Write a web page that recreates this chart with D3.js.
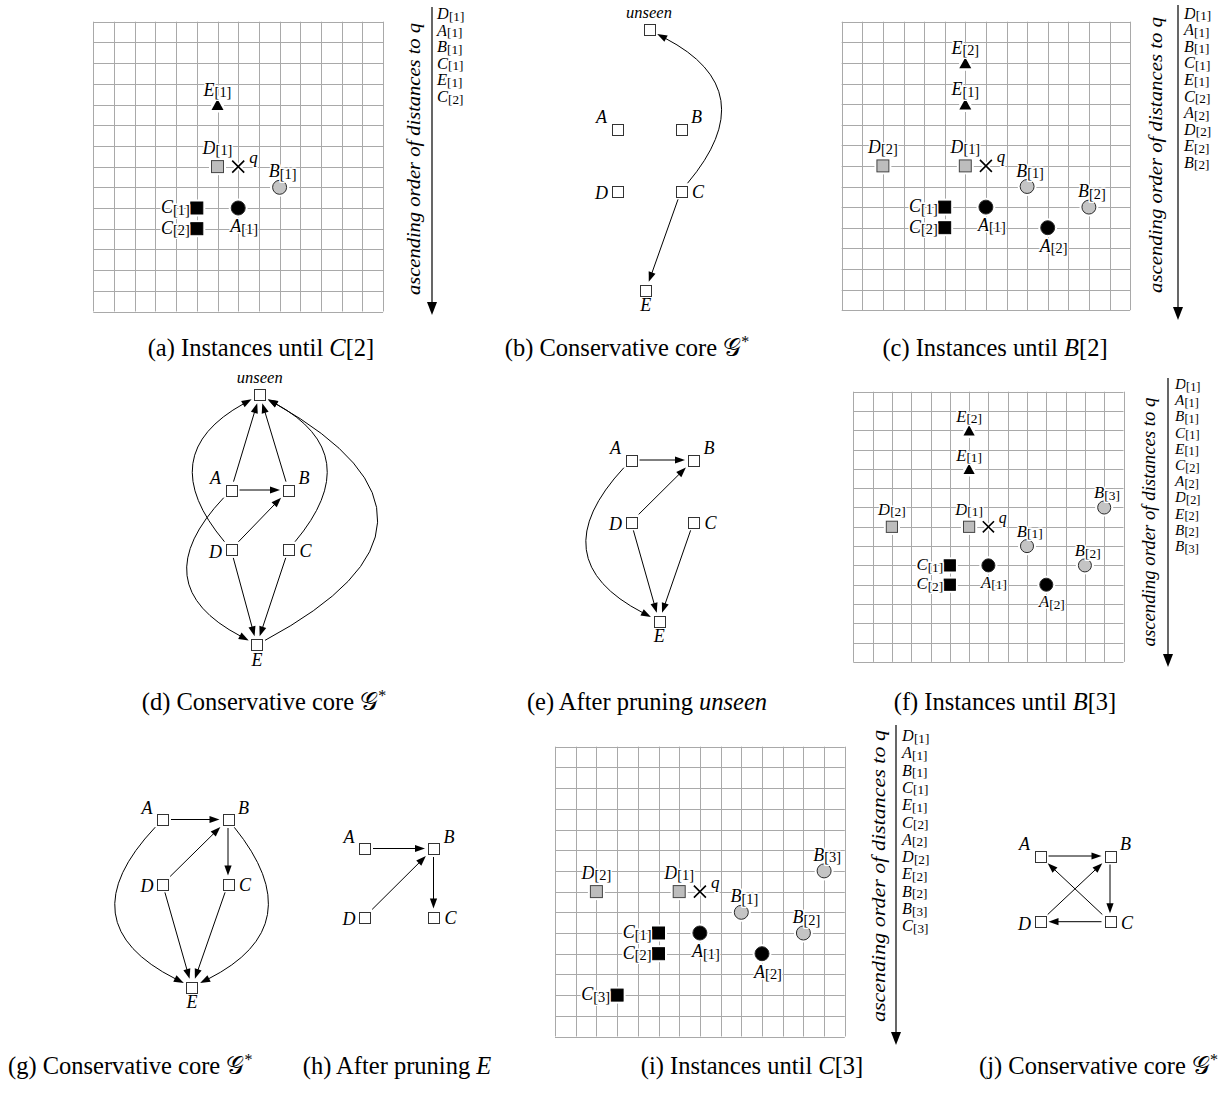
<!DOCTYPE html>
<html>
<head>
<meta charset="utf-8">
<title>Instances and conservative cores</title>
<style>
  body { margin: 0; background: #fff; }
  svg { display: block; font-family: "Liberation Serif", "Times New Roman", serif; }
  .grid line { stroke: #a9a9a9; stroke-width: 1; }
  .halo { stroke: #fff; stroke-width: 3; paint-order: stroke; stroke-linejoin: round; }
  .edge { fill: none; stroke: #000; stroke-width: 1; }
  .node { fill: #fff; stroke: #333; stroke-width: 1; }
</style>
</head>
<body>
<div id="chart"></div>
<script src="https://cdn.jsdelivr.net/npm/d3@7"></script>
<script>
(function (d3) {
    'use strict';

    // instances: id = letter + number, position on the 14x14 grid
    var instIds = ['A1', 'A2', 'B1', 'B2', 'B3', 'C1', 'C2', 'C3', 'D1', 'D2', 'E1', 'E2'];
    var instCol = [7, 10, 9, 12, 13, 5, 5, 3, 6, 2, 6, 6];
    var instRow = [9, 10, 8, 9, 6, 9, 10, 12, 7, 7, 4, 2];
    var queryCell = [7, 7];

    // ascending order of distances to q
    var orderA = ['D1', 'A1', 'B1', 'C1', 'E1', 'C2'];
    var orderC = orderA.concat(['A2', 'D2', 'E2', 'B2']);
    var orderF = orderC.concat(['B3']);
    var orderI = orderF.concat(['C3']);

    // graph nodes (abstract layout units)
    var nodeNames = ['A', 'B', 'C', 'D', 'E', 'unseen'];
    var nodeX = [0, 1, 1, 0, 0.45, 0.5];
    var nodeY = [0, 0, 1, 1, 2.6, -1.6];

    // edges: source, target, bend (0 = straight)
    var edgesB = [['C', 'unseen', 0.8], ['C', 'E', 0]];
    var edgesD = [['A', 'unseen', 0], ['B', 'unseen', 0], ['A', 'B', 0], ['D', 'B', 0],
        ['D', 'E', 0], ['C', 'E', 0], ['D', 'unseen', -0.83], ['C', 'unseen', 0.83],
        ['A', 'E', 0.9], ['E', 'unseen', 1.97]];
    var edgesE = [['A', 'B', 0], ['D', 'B', 0], ['D', 'E', 0], ['C', 'E', 0], ['A', 'E', 0.86]];
    var edgesG = [['A', 'B', 0], ['D', 'B', 0], ['B', 'C', 0], ['D', 'E', 0], ['C', 'E', 0],
        ['A', 'E', 0.87], ['B', 'E', -0.81]];
    var edgesH = [['A', 'B', 0], ['D', 'B', 0], ['B', 'C', 0]];
    var edgesJ = [['A', 'B', 0], ['B', 'C', 0], ['C', 'D', 0], ['D', 'B', 0], ['C', 'A', 0]];

    var captionText = ['(a) Instances until ', '(b) Conservative core ', '(c) Instances until ',
        '(d) Conservative core ', '(e) After pruning ', '(f) Instances until ',
        '(g) Conservative core ', '(h) After pruning ', '(i) Instances until ', '(j) Conservative core '];
    var captionMath = ['C[2]', 'G*', 'B[2]', 'G*', 'unseen', 'B[3]', 'G*', 'E', 'C[3]', 'G*'];

    var inst = {};
    instIds.forEach(function (id, i) { inst[id] = { col: instCol[i], row: instRow[i] }; });
    var nodes = {};
    nodeNames.forEach(function (n, i) { nodes[n] = { x: nodeX[i], y: nodeY[i] }; });

    var width = 1222, height = 1094;
    var svg = d3.select('#chart').append('svg')
        .attr('width', width).attr('height', height);

    // ---------- grid panels ----------
    function itemLabel(g, x, y, letter, num, anchor, size) {
        var t = g.append('text')
            .attr('class', 'halo')
            .attr('x', x).attr('y', y)
            .attr('text-anchor', anchor);
        t.append('tspan').style('font-style', 'italic').style('font-size', size + 'px').text(letter);
        if (num !== '') {
            t.append('tspan').style('font-size', (size * 0.8) + 'px').attr('dy', 1.5).text('[' + num + ']');
        }
        return t;
    }

    var labelPos = {
        A: { dx: 6, dy: 24, anchor: 'middle' },
        B: { dx: 3, dy: -10, anchor: 'middle' },
        C: { dx: -7, dy: 5, anchor: 'end' },
        D: { dx: 0, dy: -13, anchor: 'middle' },
        E: { dx: 0, dy: -9, anchor: 'middle' }
    };

    function drawGridPanel(p) {
        var k = p.cell / 20.7;
        var g = svg.append('g');
        var x = d3.scaleLinear().domain([0, 14]).range([p.x0, p.x0 + 14 * p.cell]);
        var y = d3.scaleLinear().domain([0, 14]).range([p.y0, p.y0 + 14 * p.cell]);

        var grid = g.append('g').attr('class', 'grid');
        grid.selectAll('line.v').data(d3.range(15)).enter().append('line')
            .attr('class', 'v')
            .attr('x1', function (d) { return Math.round(x(d)) + 0.5; })
            .attr('x2', function (d) { return Math.round(x(d)) + 0.5; })
            .attr('y1', y(0)).attr('y2', y(14));
        grid.selectAll('line.h').data(d3.range(15)).enter().append('line')
            .attr('class', 'h')
            .attr('y1', function (d) { return Math.round(y(d)) + 0.5; })
            .attr('y2', function (d) { return Math.round(y(d)) + 0.5; })
            .attr('x1', x(0)).attr('x2', x(14));

        var shown = p.order.filter(function (id) { return p.pruned.indexOf(id[0]) < 0; });

        // query point
        var qx = x(queryCell[0]), qy = y(queryCell[1]);
        var s6 = 6 * k;
        var cross = 'M' + (qx - s6) + ',' + (qy - s6) + 'L' + (qx + s6) + ',' + (qy + s6) +
            'M' + (qx - s6) + ',' + (qy + s6) + 'L' + (qx + s6) + ',' + (qy - s6);
        g.append('path').attr('d', cross).attr('stroke', '#fff').attr('stroke-width', 5);
        g.append('path').attr('d', cross).attr('stroke', '#000').attr('stroke-width', 1.6);
        g.append('text').attr('class', 'halo')
            .attr('x', qx + 11 * k).attr('y', qy - 4 * k)
            .style('font-style', 'italic').style('font-size', (17 * k) + 'px').text('q');

        shown.forEach(function (id) {
            var letter = id[0];
            var px = x(inst[id].col), py = y(inst[id].row);
            var m = g.append('g').attr('transform', 'translate(' + px + ',' + py + ')');
            if (letter === 'A' || letter === 'B') {
                m.append('circle').attr('r', 7 * k + 2.5).attr('fill', '#fff');
                m.append('circle').attr('r', 7 * k)
                    .attr('fill', letter === 'A' ? '#000' : '#c4c4c4')
                    .attr('stroke', '#2a2a2a').attr('stroke-width', 1);
            } else if (letter === 'C' || letter === 'D') {
                var h = 6 * k;
                m.append('rect').attr('x', -h - 2.5).attr('y', -h - 2.5)
                    .attr('width', 2 * h + 5).attr('height', 2 * h + 5).attr('fill', '#fff');
                m.append('rect').attr('x', -h).attr('y', -h)
                    .attr('width', 2 * h).attr('height', 2 * h)
                    .attr('fill', letter === 'C' ? '#000' : '#bdbdbd')
                    .attr('stroke', letter === 'C' ? '#000' : '#444').attr('stroke-width', 1);
            } else {
                var tw = 6 * k, th = 5.5 * k;
                var tri = 'M0,' + (-th) + 'L' + tw + ',' + th + 'L' + (-tw) + ',' + th + 'Z';
                m.append('path').attr('d', tri).attr('fill', '#fff').attr('stroke', '#fff').attr('stroke-width', 5);
                m.append('path').attr('d', tri).attr('fill', '#000');
            }
            var lp = labelPos[letter];
            itemLabel(g, px + lp.dx * k, py + lp.dy * k, letter, id.slice(1), lp.anchor, 18 * k);
        });

        // axis arrow
        g.append('line')
            .attr('x1', p.axisX).attr('x2', p.axisX)
            .attr('y1', p.axisTop).attr('y2', p.axisBottom - 11)
            .attr('stroke', '#000').attr('stroke-width', 1.2);
        g.append('path')
            .attr('d', 'M' + (p.axisX - 5) + ',' + (p.axisBottom - 13) + 'L' + (p.axisX + 5) + ',' +
                (p.axisBottom - 13) + 'L' + p.axisX + ',' + p.axisBottom + 'Z')
            .attr('fill', '#000');
        g.append('text')
            .attr('transform', 'translate(' + p.textX + ',' + p.textY + ') rotate(-90)')
            .attr('text-anchor', 'middle')
            .attr('textLength', p.textLen).attr('lengthAdjust', 'spacingAndGlyphs')
            .style('font-style', 'italic').style('font-size', p.textSize + 'px')
            .text('ascending order of distances to q');

        // ordered list
        p.order.forEach(function (id, i) {
            itemLabel(g, p.listX, p.listY + i * p.listStep, id[0], id.slice(1), 'start', 16.5 * k);
        });
    }

    drawGridPanel({ x0: 93.3, y0: 21.7, cell: 20.7, axisX: 432, axisTop: 7, axisBottom: 315,
        textX: 420, textY: 159, textLen: 272, textSize: 19.5, listX: 437, listY: 19, listStep: 16.6,
        order: orderA, pruned: [] });
    drawGridPanel({ x0: 841.7, y0: 21.7, cell: 20.6, axisX: 1178, axisTop: 5, axisBottom: 320,
        textX: 1162, textY: 155, textLen: 276, textSize: 19.5, listX: 1184, listY: 18.5, listStep: 16.6,
        order: orderC, pruned: [] });
    drawGridPanel({ x0: 853.3, y0: 391.7, cell: 19.3, axisX: 1168, axisTop: 378, axisBottom: 667,
        textX: 1155, textY: 522, textLen: 249, textSize: 18.5, listX: 1175, listY: 389, listStep: 16.2,
        order: orderF, pruned: [] });
    drawGridPanel({ x0: 555, y0: 746.7, cell: 20.7, axisX: 896, axisTop: 725, axisBottom: 1045,
        textX: 885, textY: 876, textLen: 292, textSize: 19.5, listX: 902, listY: 741, listStep: 17.3,
        order: orderI, pruned: ['E'] });

    // ---------- graph panels ----------
    var half = 5.5, gap = 3, headLen = 10, headHalf = 3.6;

    function exitDist(ux, uy) {
        return half / Math.max(Math.abs(ux), Math.abs(uy)) + gap;
    }

    function arrowHead(g, tipX, tipY, ux, uy) {
        var bx = tipX - ux * headLen, by = tipY - uy * headLen;
        var nx = -uy, ny = ux;
        g.append('path')
            .attr('d', 'M' + tipX + ',' + tipY +
                'L' + (bx + nx * headHalf) + ',' + (by + ny * headHalf) +
                'L' + (bx - nx * headHalf) + ',' + (by - ny * headHalf) + 'Z')
            .attr('fill', '#000');
    }

    var nodeLabel = {
        A: { dx: -10, dy: -6, anchor: 'end' },
        B: { dx: 10, dy: -6, anchor: 'start' },
        C: { dx: 11, dy: 7, anchor: 'start' },
        D: { dx: -9, dy: 8, anchor: 'end' },
        E: { dx: 0, dy: 21, anchor: 'middle' },
        unseen: { dx: 0, dy: -12, anchor: 'middle' }
    };

    function drawGraph(p, names, edges) {
        var g = svg.append('g');
        var x = d3.scaleLinear().domain([0, 1]).range([p.ox, p.ox + p.ux]);
        var y = d3.scaleLinear().domain([0, 1]).range([p.oy, p.oy + p.uy]);
        function pos(n) { return [x(nodes[n].x), y(nodes[n].y)]; }

        edges.forEach(function (e) {
            var S = pos(e[0]), T = pos(e[1]);
            var dx = T[0] - S[0], dy = T[1] - S[1];
            var L = Math.sqrt(dx * dx + dy * dy);
            var ux = dx / L, uy = dy / L;
            if (e[2] === 0) {
                var d0 = exitDist(ux, uy), d1 = exitDist(ux, uy);
                var p0 = [S[0] + ux * d0, S[1] + uy * d0];
                var p1 = [T[0] - ux * d1, T[1] - uy * d1];
                g.append('line').attr('class', 'edge')
                    .attr('x1', p0[0]).attr('y1', p0[1])
                    .attr('x2', p1[0] - ux * (headLen - 1)).attr('y2', p1[1] - uy * (headLen - 1))
                    .attr('stroke', '#000');
                arrowHead(g, p1[0], p1[1], ux, uy);
            } else {
                var bend = e[2] * p.ux;
                var nx = -uy, ny = ux;
                var C = [(S[0] + T[0]) / 2 + nx * 2 * bend, (S[1] + T[1]) / 2 + ny * 2 * bend];
                var a = [C[0] - S[0], C[1] - S[1]], la = Math.hypot(a[0], a[1]);
                var b = [C[0] - T[0], C[1] - T[1]], lb = Math.hypot(b[0], b[1]);
                var da = exitDist(a[0] / la, a[1] / la), db = exitDist(b[0] / lb, b[1] / lb);
                var q0 = [S[0] + a[0] / la * da, S[1] + a[1] / la * da];
                var q1 = [T[0] + b[0] / lb * db, T[1] + b[1] / lb * db];
                var tx = q1[0] - C[0], ty = q1[1] - C[1], lt = Math.hypot(tx, ty);
                tx /= lt; ty /= lt;
                var end = [q1[0] - tx * (headLen - 1), q1[1] - ty * (headLen - 1)];
                var path = d3.path();
                path.moveTo(q0[0], q0[1]);
                path.quadraticCurveTo(C[0], C[1], end[0], end[1]);
                g.append('path').attr('class', 'edge').attr('d', path.toString());
                arrowHead(g, q1[0], q1[1], tx, ty);
            }
        });

        names.forEach(function (n) {
            var c = pos(n);
            g.append('rect').attr('class', 'node')
                .attr('x', Math.round(c[0] - half) + 0.5).attr('y', Math.round(c[1] - half) + 0.5)
                .attr('width', 2 * half).attr('height', 2 * half);
            var lp = nodeLabel[n];
            g.append('text')
                .attr('x', c[0] + lp.dx).attr('y', c[1] + lp.dy)
                .attr('text-anchor', lp.anchor)
                .style('font-style', 'italic')
                .style('font-size', (n === 'unseen' ? 16.5 : 18) + 'px')
                .text(n);
        });
    }

    var allNodes = ['A', 'B', 'C', 'D', 'E', 'unseen'];
    drawGraph({ ox: 617, oy: 129, ux: 64, uy: 62 }, allNodes, edgesB);
    drawGraph({ ox: 231, oy: 490, ux: 57.5, uy: 59.5 }, allNodes, edgesD);
    drawGraph({ ox: 631, oy: 460, ux: 62.5, uy: 62 }, ['A', 'B', 'C', 'D', 'E'], edgesE);
    drawGraph({ ox: 162.5, oy: 819.5, ux: 65.5, uy: 64.5 }, ['A', 'B', 'C', 'D', 'E'], edgesG);
    drawGraph({ ox: 364.5, oy: 848.5, ux: 69, uy: 68.5 }, ['A', 'B', 'C', 'D'], edgesH);
    drawGraph({ ox: 1040, oy: 856, ux: 70, uy: 65.7 }, ['A', 'B', 'C', 'D'], edgesJ);

    // ---------- captions ----------
    var capX = [261, 627, 995, 264, 647, 1005, 8, 397, 752, 1218];
    var capY = [356, 356, 356, 710, 710, 710, 1074, 1074, 1074, 1074];
    var capAnchor = ['middle', 'middle', 'middle', 'middle', 'middle', 'middle', 'start', 'middle', 'middle', 'end'];

    captionText.forEach(function (txt, i) {
        var t = svg.append('text')
            .attr('x', capX[i]).attr('y', capY[i])
            .attr('text-anchor', capAnchor[i])
            .style('font-size', '24.5px');
        t.append('tspan').text(txt);
        var m = captionMath[i];
        if (m === 'G*') {
            t.append('tspan').text('\uD835\uDCA2');
            t.append('tspan').attr('dy', -9).style('font-size', '16px').text('*');
        } else if (m === 'unseen') {
            t.append('tspan').style('font-style', 'italic').text(m);
        } else {
            t.append('tspan').style('font-style', 'italic').text(m[0]);
            if (m.length > 1) t.append('tspan').text(m.slice(1));
        }
    });

})(window.d3);
</script>
</body>
</html>
